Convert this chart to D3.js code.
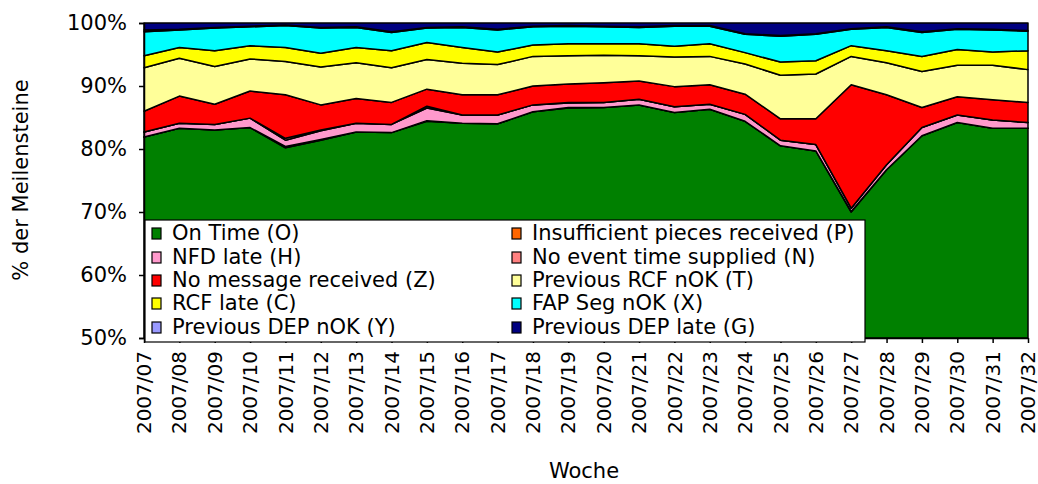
<!DOCTYPE html>
<html>
<head>
<meta charset="utf-8">
<script src="https://cdn.jsdelivr.net/npm/d3@7"></script>
<style>
body { margin: 0; background: #fff; }
text { font-family: "DejaVu Sans", Verdana, sans-serif; fill: #000; }
</style>
</head>
<body>
<div class="chart"></div>
<script>
// weeks
var weeks = ["2007/07","2007/08","2007/09","2007/10","2007/11","2007/12","2007/13","2007/14","2007/15","2007/16","2007/17","2007/18","2007/19","2007/20","2007/21","2007/22","2007/23","2007/24","2007/25","2007/26","2007/27","2007/28","2007/29","2007/30","2007/31","2007/32"];

// series in %, bottom to top
var onTime   = [81.9,83.3,83.0,83.4,80.2,81.4,82.7,82.6,84.4,84.1,84.0,85.9,86.5,86.6,87.0,85.8,86.3,84.4,80.5,79.7,70.0,76.7,82.1,84.2,83.3,83.3];
var insuff   = [0,0,0,0,0.2,0.1,0,0,0.1,0,0,0,0.1,0,0,0,0,0,0,0,0.1,0,0,0,0,0];
var nfdLate  = [0.8,0.8,0.9,1.5,1.0,1.4,1.4,1.3,2.0,1.3,1.4,1.1,0.7,0.8,0.9,0.9,0.8,1.1,0.9,1.0,0.5,0.8,1.3,1.2,1.3,0.9];
var noTime   = [0,0,0,0,0.3,0.1,0,0,0.3,0,0,0,0.1,0,0,0,0,0,0,0,0,0,0,0,0,0];
var noMsg    = [3.3,4.3,3.2,4.3,6.9,4.0,3.9,3.5,2.7,3.2,3.2,3.0,2.9,3.1,2.9,3.2,3.1,3.2,3.4,4.1,19.6,11.1,3.2,2.9,3.2,3.2];
var prevRcf  = [6.9,6.0,6.0,5.1,5.3,6.0,5.7,5.5,4.7,5.0,4.8,4.7,4.5,4.4,4.0,4.7,4.5,4.8,6.9,7.1,4.5,5.1,5.7,5.0,5.5,5.2];
var rcfLate  = [1.9,1.7,2.5,2.1,2.2,2.2,2.4,2.7,2.7,2.5,2.0,1.8,1.9,1.8,1.9,1.7,2.0,1.8,2.1,2.1,1.7,1.9,2.4,2.5,2.1,3.0];
var fapSeg   = [3.8,2.8,3.6,3.0,3.5,4.0,3.2,2.9,2.3,3.2,3.5,2.9,2.8,2.7,2.6,3.2,2.8,2.9,4.1,4.2,2.6,3.7,3.8,3.2,3.5,3.1];
var prevDep  = [0.3,0.1,0.1,0.1,0.1,0.1,0.1,0.1,0.1,0.1,0.1,0.1,0.1,0.1,0.1,0.1,0.1,0.1,0.1,0.1,0.1,0.1,0.1,0.1,0.1,0.1];
var depLate  = [1.1,1.0,0.7,0.5,0.3,0.7,0.6,1.4,0.7,0.6,1.0,0.5,0.4,0.5,0.6,0.4,0.4,1.7,2.0,1.7,0.9,0.6,1.4,0.9,1.0,1.2];

var seriesNames = ["On Time (O)","Insufficient pieces received (P)","NFD late (H)","No event time supplied (N)","No message received (Z)","Previous RCF nOK (T)","RCF late (C)","FAP Seg nOK (X)","Previous DEP nOK (Y)","Previous DEP late (G)"];
var seriesValues = [onTime,insuff,nfdLate,noTime,noMsg,prevRcf,rcfLate,fapSeg,prevDep,depLate];
var colors = ["#008000","#FF6600","#FF99CC","#FF8080","#FF0000","#FFFF99","#FFFF00","#00FFFF","#9999FF","#000080"];
var yTicks = [0.5,0.6,0.7,0.8,0.9,1.0];

var w = 1038, h = 484;
var mLeft = 144, mRight = 1028, mTop = 23, mBottom = 338;
var fs = "21px";

var data = weeks.map(function(wk, i) {
  var row = {week: wk};
  seriesNames.forEach(function(n, j) { row[n] = seriesValues[j][i] / 100; });
  return row;
});

var svg = d3.select(".chart").append("svg")
  .attr("width", w).attr("height", h);

var x = d3.scalePoint().domain(weeks).range([mLeft, mRight]);
var y = d3.scaleLinear().domain([0.5, 1]).range([mBottom, mTop]).clamp(true);

var layers = d3.stack().keys(seriesNames)(data);

var area = d3.area()
  .x(function(d) { return x(d.data.week); })
  .y0(function(d) { return y(d[0]); })
  .y1(function(d) { return y(d[1]); });

svg.append("g").selectAll("path")
  .data(layers)
  .join("path")
  .attr("d", area)
  .attr("fill", function(d, i) { return colors[i]; })
  .attr("stroke", "#000")
  .attr("stroke-width", 1.5)
  .attr("stroke-linejoin", "round");

// y axis
var yAxis = d3.axisLeft(y).tickValues(yTicks).tickFormat(d3.format(".0%")).tickSize(5).tickPadding(12);
svg.append("g")
  .attr("transform", "translate(" + mLeft + ",0)")
  .call(yAxis)
  .call(function(g) {
    g.selectAll("text").style("font-size", fs).attr("fill", "#000");
    g.selectAll("line, path").attr("stroke", "#000").attr("stroke-width", 1.5);
  });

// x axis
var xAxis = d3.axisBottom(x).tickSize(5).tickSizeOuter(0);
svg.append("g")
  .attr("transform", "translate(0," + mBottom + ")")
  .call(xAxis)
  .call(function(g) {
    g.selectAll("line, path").attr("stroke", "#000").attr("stroke-width", 1.5);
    g.selectAll("text")
      .style("font-size", "20px")
      .attr("fill", "#000")
      .attr("text-anchor", "end")
      .attr("transform", "rotate(-90)")
      .attr("x", -13)
      .attr("y", 0)
      .attr("dy", "0.33em");
  });

// axis titles
svg.append("text")
  .attr("x", 584).attr("y", 478)
  .attr("text-anchor", "middle")
  .style("font-size", fs)
  .text("Woche");

svg.append("text")
  .attr("transform", "translate(28,180) rotate(-90)")
  .attr("text-anchor", "middle")
  .style("font-size", fs)
  .text("% der Meilensteine");

// legend
var legend = svg.append("g");
legend.append("rect")
  .attr("x", 145).attr("y", 220)
  .attr("width", 720).attr("height", 122)
  .attr("fill", "#fff").attr("stroke", "#000").attr("stroke-width", 1.2);

var colX = [152, 512];
var rowY = [233, 257, 280, 303, 327];
seriesNames.forEach(function(n, i) {
  var cx = colX[i % 2], cy = rowY[Math.floor(i / 2)];
  legend.append("rect")
    .attr("x", cx).attr("y", cy - 5)
    .attr("width", 9).attr("height", 11)
    .attr("fill", colors[i]).attr("stroke", "#000").attr("stroke-width", 1.2);
  legend.append("text")
    .attr("x", cx + 20).attr("y", cy)
    .attr("dy", "0.35em")
    .style("font-size", fs)
    .text(n);
});
</script>
</body>
</html>
